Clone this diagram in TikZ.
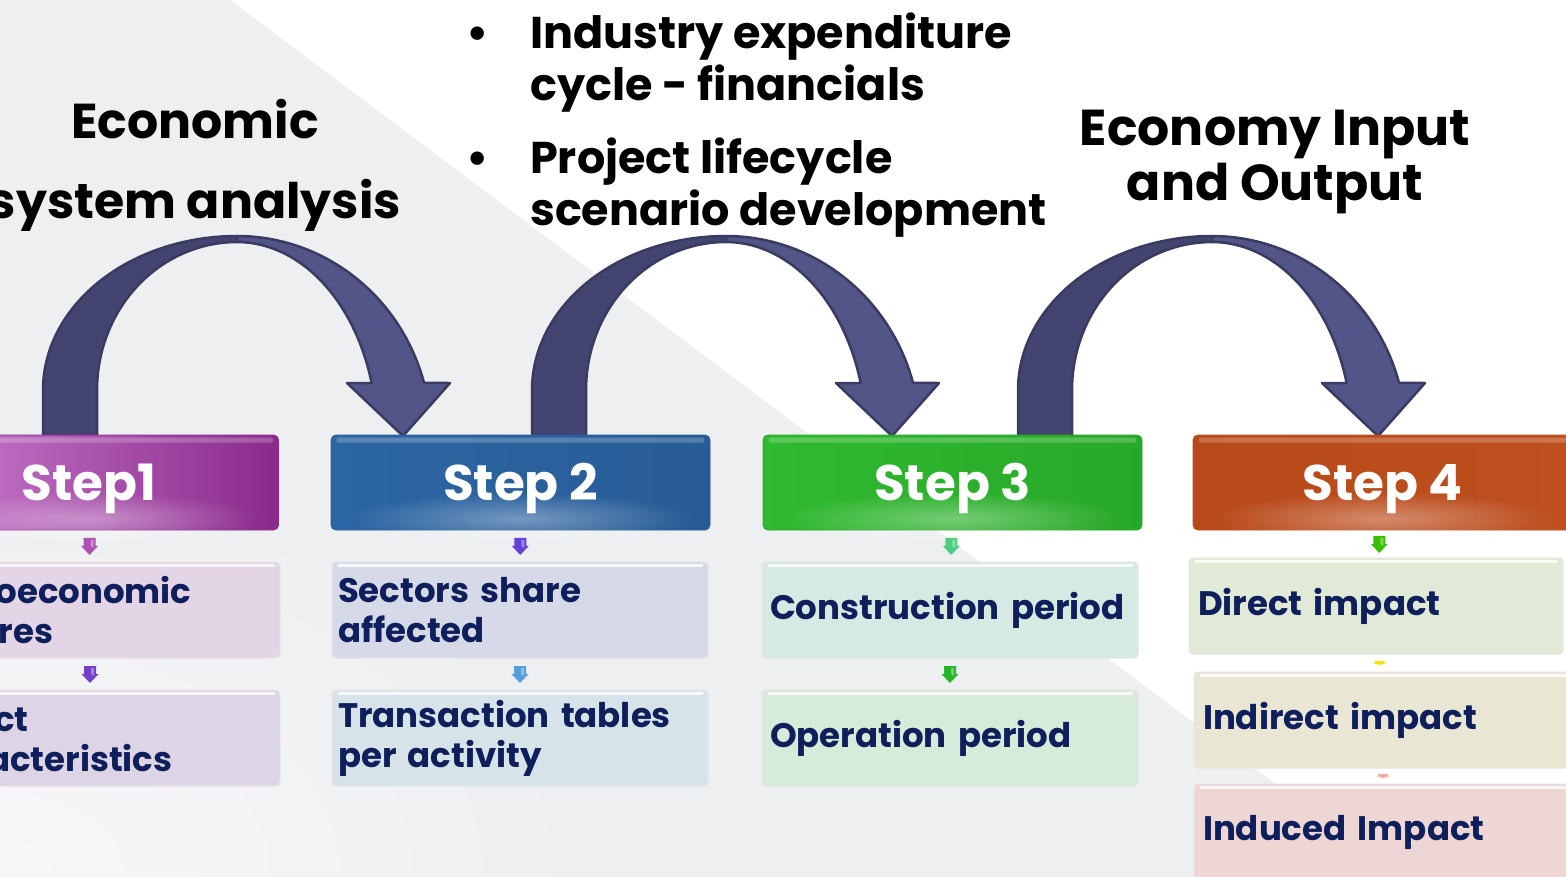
\documentclass[tikz,border=0pt]{standalone}
\usepackage{fontspec}
\setmainfont{Poppins}
\usetikzlibrary{calc,fadings}

\definecolor{bggray}{HTML}{EEEFF1}
\definecolor{ink}{HTML}{0E1F5C}
\definecolor{bandL}{HTML}{43446F}
\definecolor{bandR}{HTML}{535487}
\definecolor{bandEdge}{HTML}{3A3B62}
% step header colours: edge / centre
\definecolor{magA}{HTML}{B050B6}
\definecolor{magB}{HTML}{CC80D0}
\definecolor{magC}{HTML}{8A2A8C}
\definecolor{bluA}{HTML}{2C66A4}
\definecolor{bluB}{HTML}{6CA4DA}
\definecolor{bluC}{HTML}{285C96}
\definecolor{grnA}{HTML}{30BA30}
\definecolor{grnB}{HTML}{84E884}
\definecolor{grnC}{HTML}{28A828}
\definecolor{orgA}{HTML}{B84A1A}
\definecolor{orgB}{HTML}{F2966E}
\definecolor{orgC}{HTML}{BE5020}
% content box fills
\definecolor{c1a}{HTML}{E3D5E6}
\definecolor{c1b}{HTML}{DDD5E6}
\definecolor{c2a}{HTML}{D6D9E7}
\definecolor{c2b}{HTML}{D6E4E9}
\definecolor{c3a}{HTML}{D6E9E3}
\definecolor{c3b}{HTML}{D7EBDA}
\definecolor{c4a}{HTML}{E1EAD6}
\definecolor{c4b}{HTML}{E9E6D3}
\definecolor{c4c}{HTML}{EDD6D3}

\tikzfading[name=glowfade, inner color=transparent!0, outer color=transparent!100]

\tikzset{
  stepbox/.style={rectangle, rounded corners=5pt, minimum height=95pt,
    minimum width=379pt, inner sep=0pt, text=white, line width=0.8pt,
    text height=35pt, text depth=0pt,
    font=\fontsize{50}{60}\selectfont\bfseries},
  subbox/.style={rectangle, rounded corners=4pt, minimum height=96pt,
    inner ysep=0pt, align=left, text=ink, draw=black!10, line width=1pt,
    font=\fontsize{34}{40}\selectfont\bfseries},
  heading/.style={inner sep=0pt, text=black, align=center, anchor=base},
}

% glossy highlights on a step box
\newcommand\gloss[1]{%
  \fill[white, opacity=0.22, rounded corners=2pt]
    ($(#1.north west)+(6,3)$) rectangle ($(#1.north east)+(-6,8)$);
  \fill[white, opacity=0.35, path fading=glowfade]
    ($(#1.south)+(0,-12)$) ellipse [x radius=170, y radius=26];
}
% top edge highlight on a content box
\newcommand\sheen[1]{%
  \draw[white, line width=2.5pt, opacity=0.8]
    ($(#1.north west)+(6,4)$) -- ($(#1.north east)+(-6,4)$);
}
% small block arrow pointing down, centred on a named coordinate
\newcommand\downblock[2]{%
  \fill[#2] ($(#1)+(-6,-8)$) -- ($(#1)+(6,-8)$) -- ($(#1)+(6,0)$)
    -- ($(#1)+(8.5,0)$) -- ($(#1)+(0,9)$) -- ($(#1)+(-8.5,0)$)
    -- ($(#1)+(-6,0)$) -- cycle;
  \fill[white, opacity=0.35] ($(#1)+(1,-6)$) -- ($(#1)+(4,-6)$)
    -- ($(#1)+(4,2)$) -- ($(#1)+(1,0)$) -- cycle;
}
% flattened marker between the impact boxes
\newcommand\flatblock[2]{%
  \fill[#2] ($(#1)+(-5,-2)$) -- ($(#1)+(5,-2)$) -- ($(#1)+(5,0)$)
    -- ($(#1)+(7,0)$) -- ($(#1)+(0,2)$) -- ($(#1)+(-7,0)$)
    -- ($(#1)+(-5,0)$) -- cycle;
}
% curved block arrow from one step to the next
\newcommand\bigcurve[1]{%
  \begin{scope}[xshift=#1pt]
    % rising half: straight legs, then a flattened arc to the crest
    \filldraw[fill=bandL, draw=bandEdge, line width=2.5pt, line join=round]
      (43,436) -- (43,390)
      -- plot[domain=180:270, samples=40] ({237+194*cos(\x)}, {390+154*sin(\x)})
      -- plot[domain=270:180, samples=40] ({237+140*cos(\x)}, {390+148*sin(\x)})
      -- (97,436) -- cycle;
    % falling half with its head
    \filldraw[fill=bandR, draw=bandEdge, line width=2.5pt, line join=round]
      plot[domain=270:344.6, samples=40] ({237+194*cos(\x)}, {436+200*sin(\x)})
      -- (450,383) -- (403,436) -- (347,383)
      -- plot[domain=344.15:270, samples=40] ({237+140*cos(\x)}, {436+194*sin(\x)})
      -- cycle;
  \end{scope}
}

\begin{document}
\begin{tikzpicture}[x=1pt,y=-1pt]
\useasboundingbox (0,0) rectangle (1566,876);
\clip (0,0) rectangle (1566,876);

% background: grey wedge under a white diagonal, lighter towards lower left
\fill[white] (0,0) rectangle (1566,876);
\fill[bggray] (230,0) -- (1566,1002) -- (-10,1002) -- (-10,0) -- cycle;
\fill[white, opacity=0.55, path fading=glowfade] (0,876) ellipse [x radius=620, y radius=420];

% headings (base anchor = last line)
\node[heading, font=\fontsize{49}{80}\selectfont\bfseries]
  (econ) at (195,218) {Economic\\system analysis};
\node[heading, font=\fontsize{50.5}{55}\selectfont\bfseries]
  (eio) at (1275,200) {Economy Input\\and Output};
\node[inner sep=0pt, anchor=base west, font=\fontsize{44.5}{52}\selectfont\bfseries]
  (bul) at (466,48) {%
  \begin{tabular}[t]{@{}p{64pt}@{}l@{}}
  \textbullet & Industry expenditure\\
              & cycle - financials\\[21pt]
  \textbullet & Project lifecycle\\
              & scenario development
  \end{tabular}};

% curved arrows between the steps
\bigcurve{0}
\bigcurve{489}
\bigcurve{975}

% step headers
\node[stepbox, left color=magB, middle color=magB, right color=magC, draw=magC] (s1) at (89,482.5) {Step1};
\node[stepbox, left color=bluA, middle color=bluB, right color=bluC, draw=bluC] (s2) at (520.5,482.5) {Step 2};
\node[stepbox, left color=grnA, middle color=grnB, right color=grnC, draw=grnC] (s3) at (952.5,482.5) {Step 3};
\node[stepbox, left color=orgA, middle color=orgB, right color=orgC, draw=orgC] (s4) at (1382.5,482.5) {Step 4};
\gloss{s1}\gloss{s2}\gloss{s3}\gloss{s4}

% content boxes
\node[subbox, fill=c1a, minimum width=380pt, text width=368pt, inner xsep=6pt] (a1) at (90,610) {Macroeconomic\\features};
\node[subbox, fill=c1b, minimum width=380pt, text width=368pt, inner xsep=6pt] (b1) at (90,738) {Project\\characteristics};
\node[subbox, fill=c2a, minimum width=376pt, text width=364pt, inner xsep=6pt] (a2) at (520,610) {Sectors share\\affected};
\node[subbox, fill=c2b, minimum width=376pt, text width=364pt, inner xsep=6pt] (b2) at (520,738) {Transaction tables\\per activity};
\node[subbox, fill=c3a, minimum width=376pt, text width=360pt, inner xsep=8pt] (a3) at (950,610) {Construction period};
\node[subbox, fill=c3b, minimum width=376pt, text width=360pt, inner xsep=8pt] (b3) at (950,738) {Operation period};
\node[subbox, fill=c4a, minimum width=374pt, text width=356pt, inner xsep=9pt] (a4) at (1376,606) {Direct impact};
\node[subbox, fill=c4b, minimum width=378pt, text width=360pt, inner xsep=9pt] (b4) at (1383,720) {Indirect impact};
\node[subbox, fill=c4c, minimum width=378pt, text width=360pt, inner xsep=9pt] (c4) at (1383,832) {Induced Impact};
\foreach \n in {a1,b1,a2,b2,a3,b3,a4,b4,c4} {\sheen{\n}}

% small arrows down each column
\coordinate (d1) at ($(s1.south)!0.5!(a1.north)$);
\coordinate (e1) at ($(a1.south)!0.5!(b1.north)$);
\coordinate (d2) at ($(s2.south)!0.5!(a2.north)$);
\coordinate (e2) at ($(a2.south)!0.5!(b2.north)$);
\coordinate (d3) at ($(s3.south)!0.5!(a3.north)$);
\coordinate (e3) at ($(a3.south)!0.5!(b3.north)$);
\coordinate (d4) at ($(s4.south)!0.5!(a4.north)$);
\coordinate (e4) at ($(a4.south)!0.5!(b4.north)$);
\coordinate (f4) at ($(b4.south)!0.5!(c4.north)$);
\downblock{d1}{magA}
\downblock{e1}{violet!55!blue!75}
\downblock{d2}{blue!60!violet!75}
\downblock{e2}{cyan!65!blue!70}
\downblock{d3}{teal!55!green!70}
\downblock{e3}{green!65!black!85}
\downblock{d4}{green!60!lime!75!black}
\flatblock{e4}{yellow!85!orange}
\flatblock{f4}{red!35}
\end{tikzpicture}
\end{document}
